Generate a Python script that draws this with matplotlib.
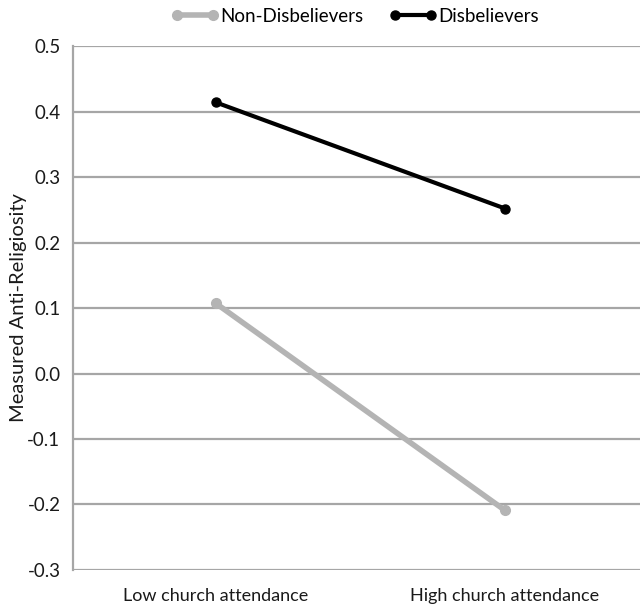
import matplotlib
matplotlib.use("Agg")
import matplotlib.pyplot as plt

plt.rcParams['font.family'] = ['Lato', 'DejaVu Sans']

categories = ["Low church attendance", "High church attendance"]
non_disbelievers = [0.107, -0.209]
disbelievers = [0.414, 0.252]
y_ticks = [-0.3, -0.2, -0.1, 0.0, 0.1, 0.2, 0.3, 0.4, 0.5]

fig = plt.figure(figsize=(6.4, 6.07), dpi=100)
ax = fig.add_axes([0.114, 0.061, 0.886, 0.863])

x = list(range(len(categories)))
ax.plot(x, non_disbelievers, color="#b4b4b4", lw=4, marker="o", ms=7,
        solid_capstyle="round", label="Non-Disbelievers")
ax.plot(x, disbelievers, color="black", lw=3, marker="o", ms=6.5,
        label="Disbelievers")

ax.set_xlim(-0.495, 1.467)
ax.set_ylim(-0.3, 0.5)
ax.set_yticks(y_ticks)
ax.set_yticklabels([f"{v:.1f}" for v in y_ticks], fontsize=13.5)
ax.set_xticks(x)
ax.set_xticklabels(categories, fontsize=13)
ax.tick_params(axis="both", length=0, colors="#1a1a1a")
ax.tick_params(axis="y", pad=9)
ax.tick_params(axis="x", pad=13)
ax.yaxis.grid(True, color="#a6a6a6", lw=1.6)
ax.set_axisbelow(True)
for s in ["top", "right", "bottom"]:
    ax.spines[s].set_visible(False)
ax.spines["left"].set_color("#a6a6a6")
ax.spines["left"].set_linewidth(1.6)
ax.set_ylabel("Measured Anti-Religiosity", fontsize=14.5, color="#1a1a1a", labelpad=0)

fig.legend(loc="center", bbox_to_anchor=(0.555, 0.973), ncol=2, frameon=False,
           fontsize=13.5, handlelength=2.5, handletextpad=0.1, columnspacing=1.4,
           numpoints=2)

fig.savefig("out.png", dpi=100)
